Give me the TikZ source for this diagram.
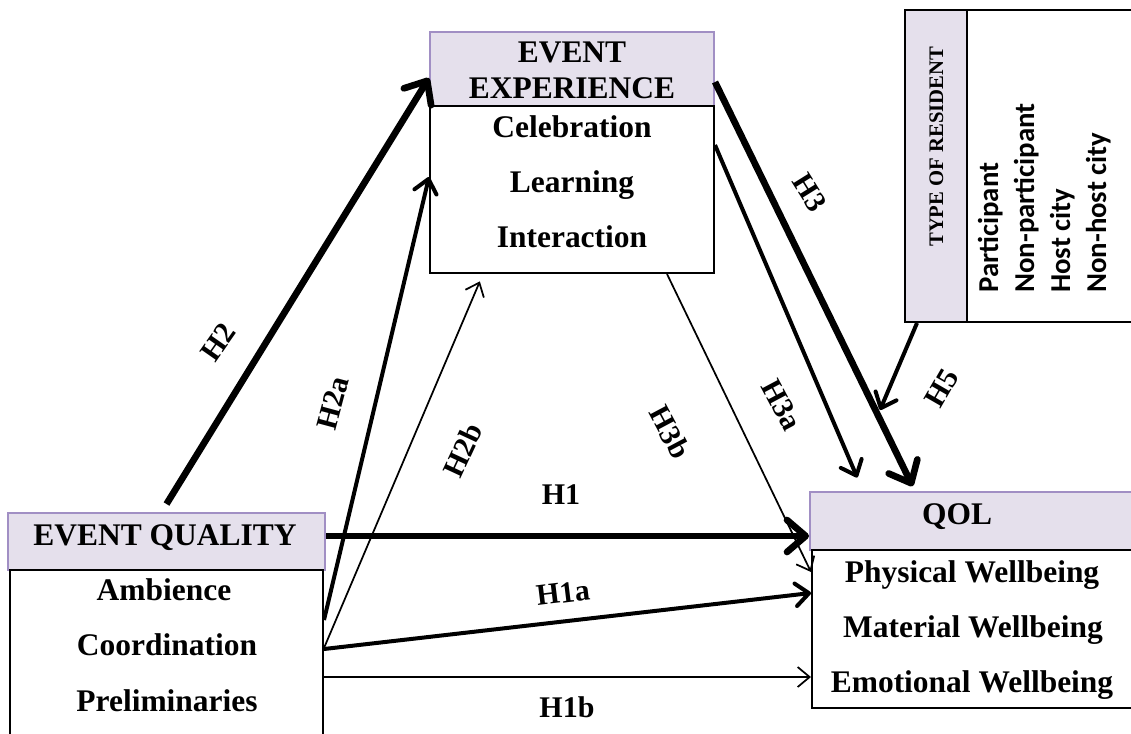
\documentclass[tikz,border=0pt]{standalone}
\usepackage{fontspec}
\setmainfont{Liberation Serif}
\newfontfamily\calibfont{Carlito}
\usetikzlibrary{arrows.meta,calc}
\definecolor{hdrfill}{RGB}{229,224,236}
\definecolor{hdrline}{RGB}{161,143,196}
\tikzset{
  hdr/.style={draw=hdrline, fill=hdrfill, line width=1.5pt, inner sep=0pt},
  bodybox/.style={draw=black, line width=1.5pt, inner sep=0pt},
  sidebox/.style={draw=black, line width=1.5pt, inner sep=0pt},
  item/.style={anchor=base, inner sep=0pt, font=\bfseries\fontsize{23.6}{27}\selectfont},
  small/.style={anchor=base west, inner sep=0pt, rotate=90, font=\bfseries\fontsize{15.5}{18}\selectfont},
  listitem/.style={anchor=base west, inner sep=0pt, rotate=90, font=\calibfont\bfseries\fontsize{21.6}{25}\selectfont},
  hyp/.style={inner sep=1pt, font=\bfseries\fontsize{22.5}{26}\selectfont},
  thickarr/.style={line width=5pt, -{Straight Barb[length=14pt,width=24pt,round]}},
  midarr/.style={line width=3pt, -{Straight Barb[length=10pt,width=17pt,round]}},
  thinarr/.style={line width=1.3pt, -{Straight Barb[length=9pt,width=15pt]}},
}
\begin{document}
\begin{tikzpicture}[x=0.75pt, y=-0.75pt]
\useasboundingbox (0,0) rectangle (1131,733);
\clip (0,0) rectangle (1131,733);

% Event experience block
\node[hdr, minimum width=213pt, minimum height=55.5pt] (eeh) at (572,69) {};
\node[bodybox, minimum width=213pt, minimum height=125.25pt] (eeb) at (572,189.5) {};
\node[item] (eet1) at (572,62) {EVENT};
\node[item] (eet2) at (572,98) {EXPERIENCE};
\node[item] (cel) at (572,137) {Celebration};
\node[item] (lea) at (572,192) {Learning};
\node[item] (int) at (572,247) {Interaction};

% Event quality block
\node[hdr, minimum width=237.75pt, minimum height=42.75pt] (eqh) at (166.5,541.5) {};
\node[bodybox, minimum width=234.75pt, minimum height=135pt] (eqb) at (166.5,660) {};
\node[item] (eqt) at (165,545) {EVENT QUALITY};
\node[item] (amb) at (164,600) {Ambience};
\node[item] (coo) at (167,655) {Coordination};
\node[item] (pre) at (167,711) {Preliminaries};

% Quality of life block
\node[hdr, minimum width=251.25pt, minimum height=43.5pt] (qolh) at (977.5,521) {};
\node[bodybox, minimum width=249.75pt, minimum height=118.5pt] (qolb) at (978.5,629) {};
\node[item] (qolt) at (957,524) {QOL};
\node[item] (phy) at (972,582) {Physical Wellbeing};
\node[item] (mat) at (973,637) {Material Wellbeing};
\node[item] (emo) at (972,692) {Emotional Wellbeing};

% Resident type block
\node[sidebox, fill=hdrfill, minimum width=46.5pt, minimum height=234pt] (trh) at (936,166) {};
\node[sidebox, minimum width=133.5pt, minimum height=234pt] (trb) at (1056,166) {};
\node[small] (trt) at (943,247) {TYPE OF RESIDENT};
\node[listitem] (par) at (998,293) {Participant};
\node[listitem] (npa) at (1034,293) {Non-participant};
\node[listitem] (hci) at (1070,293) {Host city};
\node[listitem] (nhc) at (1106,293) {Non-host city};

% Hypothesised paths
\draw[thickarr] ([yshift=6pt]eqh.north) -- (eeh.west |- 0,78);
\draw[midarr] (eqb.east |- 0,620) -- (eeb.west |- 0,177);
\draw[thinarr, shorten >=6pt] (eqb.east |- 0,648) -- (483,0 |- eeb.south);
\draw[thickarr] (eqh.east |- 0,536) -- (qolh.west |- 0,536);
\draw[midarr] (eqb.east |- 0,649) -- (qolb.west |- 0,593);
\draw[thinarr] (eqb.east |- 0,677) -- (qolb.west |- 0,677);
\draw[thickarr, shorten >=4pt] (eeh.east |- 0,82) -- (915,0 |- qolh.north);
\draw[midarr, shorten >=11pt] (eeb.east |- 0,145) -- (863,0 |- qolh.north);
\draw[thinarr] (667,0 |- eeb.south) -- (qolb.west |- 0,572);
\coordinate (h5end) at (880,410);
\draw[midarr] (917,0 |- trh.south) -- (h5end);

% Path labels
\node[hyp, rotate=55] (lh2) at (218,342) {H2};
\node[hyp, rotate=75] (lh2a) at (333,403) {H2a};
\node[hyp, rotate=65] (lh2b) at (463,450) {H2b};
\node[hyp, rotate=-62] (lh3b) at (670,432) {H3b};
\node[hyp, rotate=-62] (lh3a) at (782,405) {H3a};
\node[hyp, rotate=-58] (lh3) at (810,193) {H3};
\node[hyp, rotate=60] (lh5) at (942,388) {H5};
\node[hyp] (lh1) at (561,495) {H1};
\node[hyp, rotate=7] (lh1a) at (563,593) {H1a};
\node[hyp] (lh1b) at (567,707) {H1b};
\end{tikzpicture}
\end{document}
